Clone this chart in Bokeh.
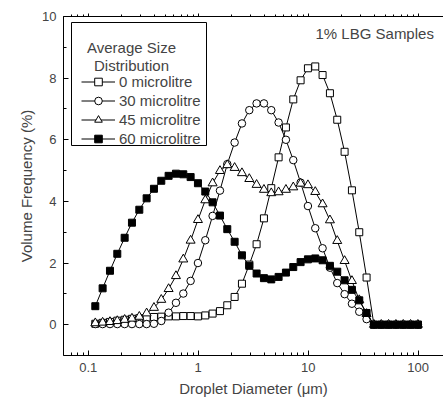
from bokeh.plotting import figure
from bokeh.models import (FixedTicker, CustomJSTickFormatter, LogAxis, Legend, LegendItem,
                          Label, SingleIntervalTicker, ColumnDataSource, BoxAnnotation)
from bokeh.embed import file_html
from bokeh.resources import INLINE

# ---- data -------------------------------------------------------------
diameter_um = [0.116, 0.1352, 0.1577, 0.1838, 0.2144, 0.2499, 0.2914, 0.3397, 0.3961, 0.4618,
               0.5384, 0.6277, 0.7319, 0.8533, 0.9949, 1.160, 1.352, 1.577, 1.838, 2.144,
               2.499, 2.914, 3.397, 3.961, 4.618, 5.384, 6.277, 7.319, 8.533, 9.949,
               11.60, 13.52, 15.77, 18.38, 21.44, 24.99, 29.14, 33.97, 39.61, 46.18,
               53.84, 62.77, 73.19, 85.33, 99.49]

vol_0 = [0.03, 0.06, 0.09, 0.13, 0.16, 0.19, 0.21, 0.23, 0.25, 0.26,
         0.27, 0.27, 0.28, 0.28, 0.27, 0.30, 0.36, 0.44, 0.63, 0.90,
         1.33, 1.95, 2.61, 3.45, 4.43, 5.43, 6.40, 7.31, 7.93, 8.32,
         8.38, 8.10, 7.51, 6.65, 5.61, 4.36, 3.00, 1.53, 0, 0,
         0, 0, 0, 0, 0]
vol_30 = [0.02, 0.02, 0.02, 0.02, 0.02, 0.02, 0.02, 0.02, 0.03, 0.12,
          0.39, 0.71, 1.01, 1.42, 2.00, 2.74, 3.53, 4.35, 5.21, 5.91,
          6.53, 6.96, 7.18, 7.18, 6.96, 6.56, 6.00, 5.34, 4.61, 3.85,
          3.13, 2.48, 1.85, 1.35, 0.99, 0.68, 0.42, 0.18, 0, 0,
          0, 0, 0, 0, 0]
vol_45 = [0.05, 0.07, 0.09, 0.12, 0.16, 0.20, 0.26, 0.37, 0.55, 0.81,
          1.16, 1.58, 2.12, 2.73, 3.40, 4.04, 4.59, 4.99, 5.18, 5.09,
          4.92, 4.73, 4.54, 4.38, 4.27, 4.30, 4.38, 4.46, 4.58, 4.53,
          4.31, 3.91, 3.39, 2.72, 2.07, 1.42, 0.80, 0.35, 0, 0,
          0, 0, 0, 0, 0]
vol_60 = [0.60, 1.18, 1.75, 2.30, 2.82, 3.31, 3.73, 4.10, 4.41, 4.67,
          4.83, 4.90, 4.88, 4.79, 4.59, 4.32, 3.97, 3.54, 3.10, 2.69,
          2.25, 1.91, 1.66, 1.51, 1.47, 1.55, 1.69, 1.87, 2.03, 2.12,
          2.15, 2.09, 1.91, 1.72, 1.44, 1.13, 0.79, 0.38, 0, 0,
          0, 0, 0, 0, 0]

series_labels = ["0 microlitre", "30 microlitre", "45 microlitre", "60 microlitre"]
legend_heading = ["Average Size", "Distribution"]
x_major_ticks = [0.1, 1, 10, 100]
x_minor_ticks = [0.07, 0.08, 0.09,
                 0.2, 0.3, 0.4, 0.5, 0.6, 0.7, 0.8, 0.9,
                 2, 3, 4, 5, 6, 7, 8, 9,
                 20, 30, 40, 50, 60, 70, 80, 90]

FONT = "Liberation Sans"

p = figure(width=443, height=400, x_axis_type="log", x_range=(0.0596, 170), y_range=(-1, 10),
           output_backend="svg", toolbar_location=None,
           min_border_left=63, min_border_right=0, min_border_top=16, min_border_bottom=45)
p.outline_line_color = None
p.xgrid.visible = False
p.ygrid.visible = False
p.background_fill_color = "white"

src = ColumnDataSource(dict(x=diameter_um, v0=vol_0, v30=vol_30, v45=vol_45, v60=vol_60))

l0 = p.line("x", "v0", source=src, line_color="black", line_width=1)
m0 = p.scatter("x", "v0", source=src, marker="square", size=7, fill_color="white",
               line_color="black", line_width=1)
l30 = p.line("x", "v30", source=src, line_color="black", line_width=1)
m30 = p.scatter("x", "v30", source=src, marker="circle", size=7.5, fill_color="white",
                line_color="black", line_width=1)
l45 = p.line("x", "v45", source=src, line_color="black", line_width=1)
m45 = p.scatter("x", "v45", source=src, marker="triangle", size=9, fill_color="white",
                line_color="black", line_width=1)
l60 = p.line("x", "v60", source=src, line_color="black", line_width=1)
m60 = p.scatter("x", "v60", source=src, marker="square", size=7, fill_color="black",
                line_color="black", line_width=1)

xa = p.xaxis[0]
xa.ticker = FixedTicker(ticks=x_major_ticks, minor_ticks=x_minor_ticks)
xa.formatter = CustomJSTickFormatter(code="return tick.toString();")
xa.axis_label = "Droplet Diameter (\u03bcm)"
xa.axis_label_text_font = FONT
xa.axis_label_text_font_size = "15px"
xa.axis_label_text_font_style = "normal"
xa.axis_label_standoff = 5
xa.major_label_text_font = FONT
xa.major_label_text_font_size = "13px"
xa.major_label_standoff = 7
xa.major_tick_in = 5
xa.major_tick_out = 0
xa.minor_tick_in = 3
xa.minor_tick_out = 0
xa.axis_line_color = "black"

ya = p.yaxis[0]
ya.ticker = SingleIntervalTicker(interval=2, num_minor_ticks=2)
ya.axis_label = "Volume Frequency (%)"
ya.axis_label_text_font = FONT
ya.axis_label_text_font_size = "15px"
ya.axis_label_text_font_style = "normal"
ya.axis_label_standoff = 4
ya.major_label_text_font = FONT
ya.major_label_text_font_size = "13px"
ya.major_label_standoff = 7
ya.major_tick_in = 5
ya.major_tick_out = 0
ya.minor_tick_in = 3
ya.minor_tick_out = 0

top = LogAxis(ticker=FixedTicker(ticks=x_major_ticks, minor_ticks=x_minor_ticks),
              formatter=CustomJSTickFormatter(code="return '';"),
              major_label_text_font_size="1px", major_tick_in=0, major_tick_out=3,
              minor_tick_in=0, minor_tick_out=2, major_label_standoff=0)
p.add_layout(top, "above")

# legend frame (screen units: x from frame left, y from frame bottom)
p.add_layout(BoxAnnotation(left=8, right=143, top=333, bottom=210,
                           left_units="screen", right_units="screen",
                           top_units="screen", bottom_units="screen",
                           fill_color="white", fill_alpha=1,
                           line_color="black", line_width=1, line_alpha=1))
for txt, yy in zip(legend_heading, [308, 290]):
    p.add_layout(Label(x=68, y=yy, x_units="screen", y_units="screen", text=txt,
                       text_font=FONT, text_font_size="15px", text_align="center",
                       text_baseline="middle"))

legend = Legend(items=[LegendItem(label=series_labels[0], renderers=[l0, m0]),
                       LegendItem(label=series_labels[1], renderers=[l30, m30]),
                       LegendItem(label=series_labels[2], renderers=[l45, m45]),
                       LegendItem(label=series_labels[3], renderers=[l60, m60])],
                location=(18, 207),
                label_text_font=FONT, label_text_font_size="15px",
                glyph_width=34, glyph_height=19, label_height=19, label_standoff=4,
                spacing=0, padding=6, margin=0,
                border_line_color=None, background_fill_alpha=0)
p.add_layout(legend)

p.add_layout(Label(x=252, y=322, x_units="screen", y_units="screen", text="1% LBG Samples",
                   text_font=FONT, text_font_size="15px", text_baseline="middle"))

open("out.html", "w").write(file_html(p, INLINE))
